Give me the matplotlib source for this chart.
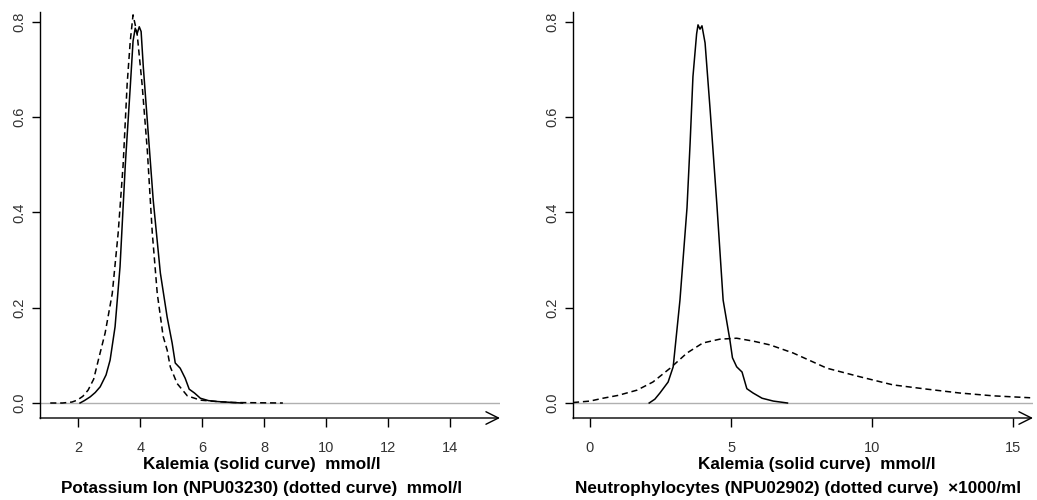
import matplotlib
matplotlib.use("Agg")
import matplotlib.pyplot as plt

# ---- data ----
k1_x = [2.06, 2.2, 2.39, 2.55, 2.71, 2.9, 3.03, 3.19, 3.35, 3.52, 3.68, 3.77, 3.84, 3.9, 3.97, 4.03,
        4.1, 4.26, 4.42, 4.65, 4.87, 5.03, 5.13, 5.29, 5.45, 5.58, 5.75, 5.94, 6.2, 6.5, 7.0, 7.3]
k1_y = [0.0, 0.005, 0.013, 0.022, 0.034, 0.059, 0.09, 0.16, 0.286, 0.50, 0.664, 0.76, 0.787, 0.775,
        0.79, 0.78, 0.706, 0.566, 0.426, 0.273, 0.18, 0.126, 0.084, 0.073, 0.052, 0.029, 0.021, 0.01,
        0.005, 0.003, 0.001, 0.0]

pot_x = [1.1, 1.5, 1.8, 1.97, 2.15, 2.32, 2.5, 2.65, 2.87, 3.1, 3.29, 3.45, 3.58, 3.68, 3.77, 3.9,
         4.06, 4.23, 4.39, 4.55, 4.74, 4.87, 4.97, 5.19, 5.52, 5.94, 6.48, 7.0, 8.6]
pot_y = [0.0, 0.0, 0.002, 0.006, 0.014, 0.027, 0.05, 0.09, 0.147, 0.23, 0.357, 0.50, 0.67, 0.76,
         0.815, 0.776, 0.67, 0.53, 0.357, 0.23, 0.14, 0.111, 0.076, 0.041, 0.015, 0.006, 0.003,
         0.001, 0.0]

k2_x = [2.1, 2.3, 2.48, 2.77, 2.95, 3.19, 3.44, 3.55, 3.65, 3.78, 3.83, 3.9, 3.97, 4.08, 4.26, 4.5,
        4.72, 4.96, 5.05, 5.2, 5.39, 5.56, 5.78, 6.1, 6.5, 7.0]
k2_y = [0.0, 0.008, 0.021, 0.044, 0.076, 0.216, 0.41, 0.546, 0.685, 0.775, 0.794, 0.785, 0.792,
        0.756, 0.615, 0.415, 0.216, 0.132, 0.095, 0.076, 0.065, 0.03, 0.021, 0.01, 0.004, 0.0]

neu_x = [-0.6, 0.0, 0.46, 1.0, 1.67, 2.23, 2.84, 3.44, 4.0, 4.6, 5.2, 5.78, 6.38, 7.2, 8.4, 9.57,
         10.74, 11.95, 13.1, 14.3, 15.6]
neu_y = [0.001, 0.004, 0.01, 0.016, 0.027, 0.044, 0.073, 0.105, 0.126, 0.134, 0.136, 0.13, 0.122,
         0.105, 0.073, 0.055, 0.038, 0.029, 0.021, 0.015, 0.011]

left_xticks = [2, 4, 6, 8, 10, 12, 14]
right_xticks = [0, 5, 10, 15]
yticks = [0.0, 0.2, 0.4, 0.6, 0.8]

left_label1 = "Kalemia (solid curve)  mmol/l"
left_label2 = "Potassium Ion (NPU03230) (dotted curve)  mmol/l"
right_label1 = "Kalemia (solid curve)  mmol/l"
right_label2 = "Neutrophylocytes (NPU02902) (dotted curve)  \u00d71000/ml"

plt.rcParams['font.family'] = ['Liberation Sans', 'DejaVu Sans']

W, H = 1037, 500
fig = plt.figure(figsize=(W / 100, H / 100), dpi=100)

def make_axes(left_px, right_px, xlim, xticks):
    ax = fig.add_axes([left_px / W, 1 - 418 / H, (right_px - left_px) / W, (418 - 12) / H])
    ax.set_xlim(*xlim)
    ax.set_ylim(-0.0315, 0.821)
    for s in ['top', 'right', 'bottom']:
        ax.spines[s].set_visible(False)
    ax.spines['left'].set_linewidth(1.0)
    ax.set_yticks(yticks)
    ax.set_yticklabels([f"{v:.1f}" for v in yticks], rotation=90, va='center')
    ax.set_xticks(xticks)
    ax.set_xticklabels([str(v) for v in xticks])
    ax.tick_params(axis='y', direction='out', length=6, width=1, pad=3.5,
                   labelsize=10.5, labelcolor='#333333')
    ax.tick_params(axis='x', direction='out', length=6.5, width=1, pad=10,
                   labelsize=10.5, labelcolor='#333333')
    ax.axhline(0, color='#b0b0b0', lw=1.0, zorder=1)
    ax.annotate('', xy=(1.0, 0), xytext=(0, 0), xycoords='axes fraction',
                arrowprops=dict(arrowstyle='->,head_length=0.9,head_width=0.45',
                                color='black', lw=1.0, shrinkA=0, shrinkB=0),
                annotation_clip=False)
    return ax

ax1 = make_axes(40, 500, (0.77, 15.6), left_xticks)
ax1.plot(k1_x, k1_y, color='black', lw=1.1, zorder=3)
ax1.plot(pot_x, pot_y, color='black', lw=1.1, dashes=(4, 2.5), zorder=3)

ax2 = make_axes(573, 1033, (-0.6, 15.7), right_xticks)
ax2.plot(k2_x, k2_y, color='black', lw=1.1, zorder=3)
ax2.plot(neu_x, neu_y, color='black', lw=1.1, dashes=(4, 2.5), zorder=3)

fs = 12.3
fig.text(262 / W, 1 - 464 / H, left_label1, ha='center', va='center', fontsize=fs, fontweight='bold')
fig.text(262 / W, 1 - 488 / H, left_label2, ha='center', va='center', fontsize=fs, fontweight='bold')
fig.text(817 / W, 1 - 464 / H, right_label1, ha='center', va='center', fontsize=fs, fontweight='bold')
fig.text(798 / W, 1 - 488 / H, right_label2, ha='center', va='center', fontsize=fs, fontweight='bold')

fig.savefig("out.png", dpi=100, facecolor='white')
